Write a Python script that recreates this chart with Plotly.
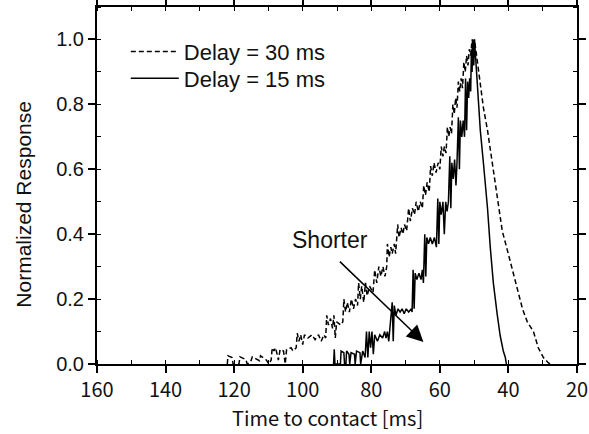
import plotly.graph_objects as go

# Delay = 30 ms (dashed) : time to contact [ms] and normalized response
x_d30 = [
    122.0, 121.8, 120.6, 120.3, 118.6, 118.3, 116.6, 116.2, 115.2, 114.7,
    112.6, 112.3, 110.6, 109.9, 109.2, 108.9, 108.4, 107.9, 107.1, 106.6,
    105.6, 105.1, 104.7, 103.4, 102.8, 101.9, 101.6, 101.1, 100.6, 100.0,
    99.5, 98.5, 97.3, 96.4, 95.4, 94.6, 93.8, 93.3, 93.0, 92.5,
    91.9, 91.3, 90.9, 90.5, 90.1, 88.9, 88.3, 88.0, 87.5, 87.0,
    86.4, 85.8, 85.2, 84.6, 84.0, 83.7, 83.2, 82.8, 82.2, 81.7,
    81.2, 80.5, 79.5, 79.0, 78.4, 77.8, 77.2, 76.6, 76.0, 75.5,
    75.3, 74.8, 74.3, 73.9, 73.3, 72.9, 72.3, 71.9, 71.3, 70.8,
    70.3, 69.7, 69.1, 68.6, 68.0, 67.4, 66.9, 66.3, 65.7, 65.1,
    64.7, 64.2, 63.7, 63.1, 62.7, 62.2, 61.7, 61.1, 60.5, 60.0,
    59.6, 59.1, 58.7, 58.2, 57.8, 57.4, 57.0, 56.6, 56.2, 55.8,
    55.4, 55.0, 54.6, 54.2, 53.8, 53.4, 53.0, 52.6, 52.2, 51.8,
    51.4, 51.0, 50.6, 50.2, 49.9, 49.4, 48.2, 47.3, 46.1, 44.7,
    43.2, 41.8, 40.3, 38.8, 37.4, 35.9, 34.5, 32.7, 31.3, 29.8,
    28.4, 27.8,
]
y_d30 = [
    0.0, 0.025, 0.02, 0.0, 0.0, 0.022, 0.014, 0.0, 0.006, 0.022,
    0.01, 0.025, 0.012, 0.0, 0.012, 0.05, 0.04, 0.05, 0.012, 0.045,
    0.04, 0.0, 0.045, 0.05, 0.04, 0.05, 0.095, 0.07, 0.09, 0.06,
    0.09, 0.08, 0.09, 0.075, 0.09, 0.07, 0.09, 0.08, 0.15, 0.12,
    0.14, 0.11, 0.15, 0.08, 0.13, 0.12, 0.13, 0.20, 0.16, 0.19,
    0.16, 0.20, 0.17, 0.20, 0.18, 0.25, 0.20, 0.24, 0.19, 0.25,
    0.21, 0.24, 0.22, 0.29, 0.25, 0.30, 0.27, 0.30, 0.27, 0.30,
    0.37, 0.33, 0.36, 0.34, 0.37, 0.34, 0.43, 0.39, 0.42, 0.40,
    0.43, 0.41, 0.48, 0.44, 0.48, 0.46, 0.50, 0.47, 0.50, 0.48,
    0.55, 0.52, 0.56, 0.53, 0.61, 0.58, 0.62, 0.59, 0.62, 0.60,
    0.67, 0.64, 0.67, 0.65, 0.73, 0.70, 0.73, 0.71, 0.80, 0.77,
    0.82, 0.79, 0.87, 0.84, 0.88, 0.85, 0.93, 0.90, 0.95, 0.92,
    0.97, 0.95, 1.0, 0.97, 1.0, 0.96, 0.88, 0.79, 0.72, 0.62,
    0.51, 0.41, 0.35, 0.29, 0.23, 0.17, 0.13, 0.10, 0.05, 0.02,
    0.004, 0.0,
]

# Delay = 15 ms (solid)
x_d15 = [
    91.0, 90.8, 90.6, 89.0, 88.8, 88.0, 87.8, 87.4, 87.2, 86.5,
    86.3, 85.9, 84.9, 84.7, 84.3, 83.3, 83.1, 82.5, 81.8, 81.4,
    81.0, 80.6, 80.2, 79.8, 79.4, 79.0, 78.2, 77.5, 76.7, 76.1,
    75.7, 75.3, 74.9, 73.9, 73.6, 73.3, 72.8, 72.2, 71.6, 71.0,
    70.4, 69.8, 69.1, 68.3, 68.1, 67.8, 67.5, 67.2, 66.7, 66.1,
    65.5, 65.1, 64.8, 64.4, 64.1, 63.8, 63.3, 62.8, 62.2, 61.6,
    61.0, 60.6, 60.3, 60.0, 59.6, 59.1, 58.7, 58.3, 57.9, 57.5,
    57.1, 56.8, 56.5, 56.1, 55.7, 55.3, 55.0, 54.6, 54.3, 54.0,
    53.6, 53.2, 52.8, 52.5, 52.2, 51.9, 51.6, 51.3, 51.0, 50.8,
    50.6, 50.4, 50.1, 49.9, 49.6, 48.8, 48.2, 47.3, 46.1, 45.3,
    44.4, 43.3, 42.4, 41.5, 40.9, 40.6,
]
y_d15 = [
    0.0, 0.045, 0.0, 0.0, 0.04, 0.035, 0.0, 0.0, 0.04, 0.03,
    0.0, 0.035, 0.03, 0.0, 0.04, 0.035, 0.0, 0.04, 0.02, 0.10,
    0.02, 0.10, 0.05, 0.10, 0.03, 0.09, 0.07, 0.09, 0.08, 0.10,
    0.08, 0.10, 0.07, 0.19, 0.07, 0.18, 0.15, 0.17, 0.16, 0.17,
    0.155, 0.17, 0.16, 0.17, 0.16, 0.29, 0.17, 0.28, 0.26, 0.28,
    0.26, 0.29, 0.25, 0.40, 0.27, 0.39, 0.37, 0.39, 0.37, 0.39,
    0.36, 0.51, 0.37, 0.50, 0.46, 0.50, 0.40, 0.50, 0.47, 0.50,
    0.64, 0.48, 0.62, 0.57, 0.63, 0.55, 0.62, 0.76, 0.60, 0.75,
    0.70, 0.75, 0.70, 0.88, 0.72, 0.87, 0.82, 0.88, 0.84, 0.97,
    0.90, 1.0, 0.92, 1.0, 0.95, 0.82, 0.72, 0.62, 0.48, 0.36,
    0.25, 0.155, 0.087, 0.04, 0.02, 0.0,
]

x_ticks = [160, 140, 120, 100, 80, 60, 40, 20]
y_ticks = [0.0, 0.2, 0.4, 0.6, 0.8, 1.0]
y_ticklabels = ["0.0", "0.2", "0.4", "0.6", "0.8", "1.0"]

# arrow annotation: tail and head in data units
arrow_tail = (89.6, 0.32)
arrow_head = (64.8, 0.068)
label_pos = (92.0, 0.382)

SANS = "Liberation Sans, Arial, sans-serif"
JP = "Noto Sans CJK JP, sans-serif"

fig = go.Figure()
fig.add_trace(go.Scatter(
    x=x_d30, y=y_d30, mode="lines", name="Delay = 30 ms", legend="legend",
    line=dict(color="black", width=1.5, dash="5px,3px"),
))
fig.add_trace(go.Scatter(
    x=x_d15, y=y_d15, mode="lines", name="Delay = 15 ms", legend="legend2",
    line=dict(color="black", width=1.5),
))

axis_common = dict(
    showline=True, linecolor="black", linewidth=2, mirror="ticks",
    ticks="outside", ticklen=7, tickwidth=1.5, tickcolor="black",
    showgrid=False, zeroline=False, automargin=False,
)

legend_common = dict(
    xanchor="left", yanchor="middle", bgcolor="rgba(0,0,0,0)",
    font=dict(family=SANS, size=22, color="#111"), itemwidth=48,
)

fig.update_layout(
    template="none",
    width=589, height=434,
    margin=dict(l=97, r=12, t=7, b=70),
    paper_bgcolor="white", plot_bgcolor="white",
    font=dict(family=SANS, color="black"),
    xaxis=dict(
        range=[160, 20], tickmode="array", tickvals=x_ticks,
        tickfont=dict(family=JP, size=20, color="#111"),
        minor=dict(tickmode="linear", tick0=0, dtick=10, ticks="inside", ticklen=4, tickcolor="black", tickwidth=1.2),
        **axis_common,
    ),
    yaxis=dict(
        range=[0, 1.1], tickmode="array", tickvals=y_ticks, ticktext=y_ticklabels,
        tickfont=dict(family=SANS, size=20, color="#111"),
        minor=dict(tickmode="linear", tick0=0, dtick=0.1, ticks="inside", ticklen=4, tickcolor="black", tickwidth=1.2),
        **axis_common,
    ),
    legend=dict(x=0.06, y=0.875, **legend_common),
    legend2=dict(x=0.06, y=0.80, **legend_common),
    showlegend=True,
)

fig.add_annotation(
    x=arrow_head[0], y=arrow_head[1], ax=arrow_tail[0], ay=arrow_tail[1],
    xref="x", yref="y", axref="x", ayref="y",
    text="", showarrow=True, arrowhead=2, arrowsize=2.2, arrowwidth=1.5, arrowcolor="black",
)
fig.add_annotation(
    x=label_pos[0], y=label_pos[1], xref="x", yref="y",
    text="Shorter", showarrow=False, font=dict(family=SANS, size=23, color="#111"),
)
fig.add_annotation(
    x=-0.155, y=0.448, xref="paper", yref="paper", xanchor="center", yanchor="middle",
    text="Normalized Response", textangle=-90, showarrow=False,
    font=dict(family=SANS, size=21, color="#111"),
)
fig.add_annotation(
    x=0.48, y=-0.15, xref="paper", yref="paper", xanchor="center", yanchor="middle",
    text="Time to contact [ms]", showarrow=False,
    font=dict(family=JP, size=20, color="#111"),
)

fig.write_html("out.html")
